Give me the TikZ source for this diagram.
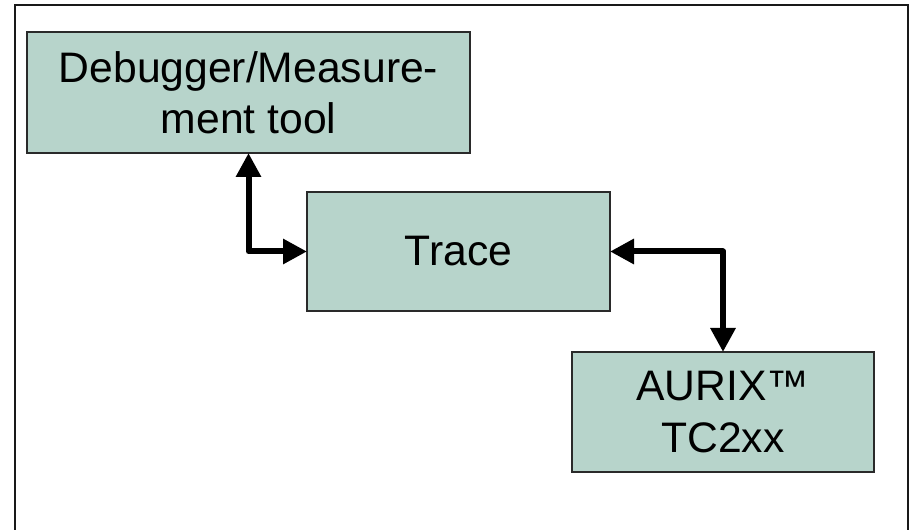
\documentclass[tikz,border=0pt]{standalone}
\usepackage{fontspec}
\setmainfont{Liberation Sans}
\usetikzlibrary{arrows.meta}
\definecolor{boxfill}{HTML}{B7D4CB}
\definecolor{boxline}{HTML}{2A2A2A}
\tikzset{
  blockbox/.style={draw=boxline, line width=0.9pt, fill=boxfill, outer sep=0pt,
    inner sep=0pt, align=center,
    font=\fontsize{32}{38.5}\selectfont},
  linkarrow/.style={line width=4.5pt, line join=round, draw=black,
    {Triangle[length=18pt,width=18pt]}-{Triangle[length=18pt,width=18pt]}},
}
\begin{document}
\begin{tikzpicture}[x=0.75pt,y=-0.75pt]
\useasboundingbox (0,0) rectangle (912,530);
\draw[line width=1.2pt, draw=black!90] (15,5) rectangle (908,545);
\node[blockbox, minimum width=332.25pt, minimum height=90.75pt] (dbg) at (248.5,92.5) {Debugger/Measure-\\ment tool};
\node[blockbox, minimum width=227.25pt, minimum height=89.25pt] (trace) at (458.5,251.5) {Trace};
\node[blockbox, minimum width=226.5pt, minimum height=90pt] (aurix) at (723,412) {AURIX™\\TC2xx};
\draw[linkarrow] (dbg.south) |- (trace.west);
\draw[linkarrow] (trace.east) -| (aurix.north);
\end{tikzpicture}
\end{document}
